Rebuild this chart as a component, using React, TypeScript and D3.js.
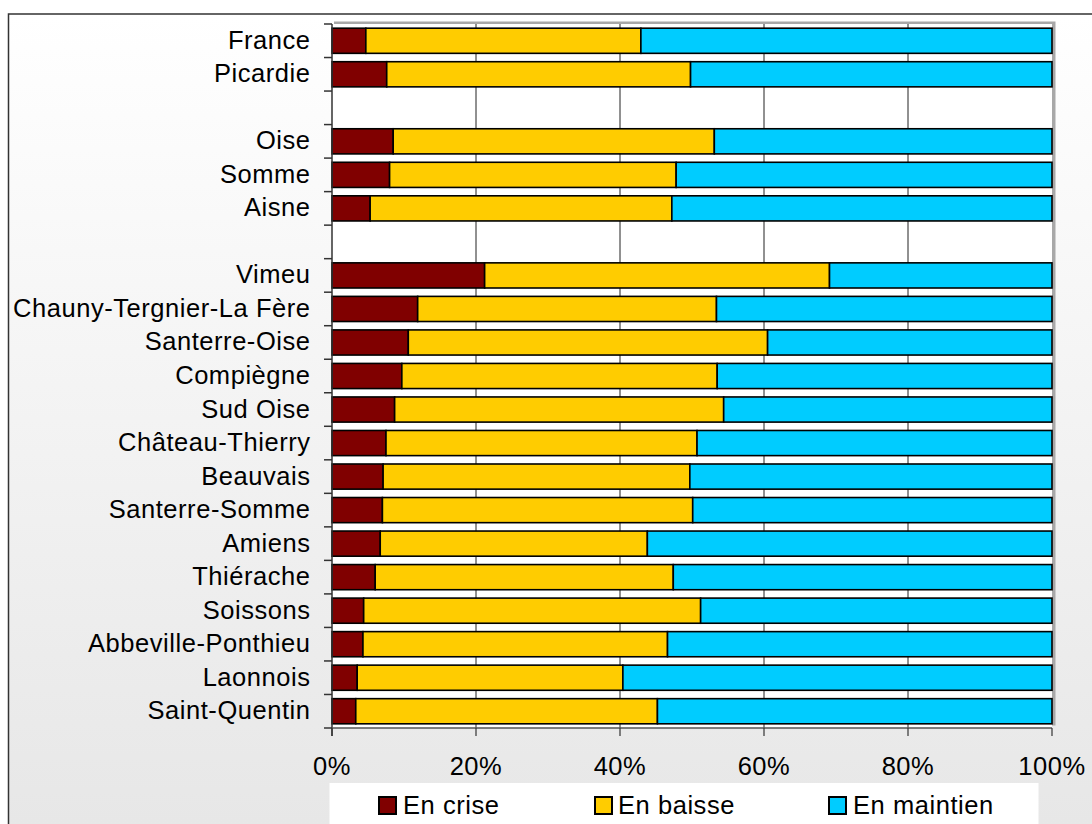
import React from "react";
import * as d3 from "d3";

// Rows from top to bottom; empty strings are spacer rows between groups
const regions = [
  "France", "Picardie", "",
  "Oise", "Somme", "Aisne", "",
  "Vimeu", "Chauny-Tergnier-La Fère", "Santerre-Oise", "Compiègne", "Sud Oise",
  "Château-Thierry", "Beauvais", "Santerre-Somme", "Amiens", "Thiérache",
  "Soissons", "Abbeville-Ponthieu", "Laonnois", "Saint-Quentin",
];

// Share of each status, in percent (null for spacer rows)
const enCrise = [
  4.7, 7.6, null,
  8.5, 8.0, 5.3, null,
  21.2, 11.9, 10.6, 9.7, 8.7,
  7.5, 7.1, 7.0, 6.7, 6.0,
  4.4, 4.3, 3.5, 3.3,
];
const enBaisse = [
  38.2, 42.2, null,
  44.6, 39.8, 41.9, null,
  47.9, 41.5, 49.9, 43.8, 45.7,
  43.2, 42.6, 43.1, 37.1, 41.4,
  46.8, 42.3, 36.9, 41.9,
];
const enMaintien = [
  57.1, 50.2, null,
  46.9, 52.2, 52.8, null,
  30.9, 46.6, 39.5, 46.5, 45.6,
  49.3, 50.3, 49.9, 56.2, 52.6,
  48.8, 53.4, 59.6, 54.8,
];

const seriesNames = ["En crise", "En baisse", "En maintien"];
const seriesColors = ["#800000", "#FFCC00", "#00CCFF"];
const xTicks = [0, 20, 40, 60, 80, 100];

const W = 1092;
const H = 824;
const plot = { left: 332, top: 24, width: 720, height: 704 };
const FONT = "'Liberation Sans', Arial, sans-serif";
const FS = 25.5;
const LS = 0.55;

export default function App() {
  const rows = regions.map((name, i) => ({
    key: String(i),
    name,
    values: [enCrise[i], enBaisse[i], enMaintien[i]],
  }));

  const x = d3.scaleLinear().domain([0, 100]).range([plot.left, plot.left + plot.width]);
  const y = d3
    .scaleBand<string>()
    .domain(rows.map((r) => r.key))
    .range([plot.top, plot.top + plot.height])
    .paddingInner(0.25)
    .paddingOuter(0.125);
  const step = y.step();
  const bottom = plot.top + plot.height;

  // Stack the three series per row
  const stackData = rows
    .filter((r) => r.values[0] !== null)
    .map((r) => ({ key: r.key, c0: r.values[0] as number, c1: r.values[1] as number, c2: r.values[2] as number }));
  const stacked = d3.stack<any>().keys(["c0", "c1", "c2"])(stackData);

  // Row boundaries for the category ticks
  const boundaries = d3.range(rows.length + 1).map((i) => plot.top + i * step);

  const legendItems = [
    { markerX: 379, textX: 403 },
    { markerX: 595, textX: 618 },
    { markerX: 829, textX: 853 },
  ];

  return (
    <svg
      width={W}
      height={H}
      style={{ position: "absolute", left: 0, top: 0, fontFamily: FONT }}
    >
      <defs>
        <linearGradient id="bg" x1="0" y1="0" x2="0" y2="1">
          <stop offset="0%" stopColor="#ffffff" />
          <stop offset="100%" stopColor="#e6e6e6" />
        </linearGradient>
      </defs>

      <rect x={0} y={0} width={W} height={H} fill="#ffffff" />
      {/* Chart frame */}
      <rect
        x={8.5}
        y={14}
        width={W + 20}
        height={H + 20}
        fill="url(#bg)"
        stroke="#333333"
        strokeWidth={1.5}
      />

      {/* Plot area with a soft shadow on top and right */}
      <rect x={plot.left + 2} y={plot.top - 2.5} width={plot.width + 1.5} height={plot.height} fill="#a8a8a8" />
      <rect x={plot.left} y={plot.top} width={plot.width} height={plot.height} fill="#ffffff" />

      {/* Vertical gridlines */}
      {xTicks
        .filter((t) => t > 0 && t < 100)
        .map((t) => (
          <line key={t} x1={x(t)} x2={x(t)} y1={plot.top} y2={bottom} stroke="#222" strokeWidth={1} />
        ))}

      {/* Stacked bars */}
      {stacked.map((layer, si) => (
        <g key={si} fill={seriesColors[si]} stroke="#000" strokeWidth={1.6}>
          {layer.map((d: any) => (
            <rect
              key={d.data.key}
              x={x(d[0])}
              y={y(d.data.key)}
              width={x(d[1]) - x(d[0])}
              height={y.bandwidth()}
            />
          ))}
        </g>
      ))}

      {/* Axes */}
      <line x1={plot.left} x2={plot.left} y1={plot.top} y2={bottom + 8} stroke="#333" strokeWidth={1.5} />
      <line x1={plot.left} x2={plot.left + plot.width} y1={bottom} y2={bottom} stroke="#555" strokeWidth={1.5} />
      {boundaries.map((b, i) => (
        <line key={i} x1={plot.left - 8} x2={plot.left} y1={b} y2={b} stroke="#333" strokeWidth={1.5} />
      ))}
      {xTicks.map((t) => (
        <line key={t} x1={x(t)} x2={x(t)} y1={bottom} y2={bottom + 8} stroke="#333" strokeWidth={1.2} />
      ))}

      {/* Category labels */}
      {rows.map((r) =>
        r.name ? (
          <text
            key={r.key}
            x={310 + LS}
            y={(y(r.key) as number) + y.bandwidth() / 2 + 8}
            textAnchor="end"
            fontSize={FS}
            letterSpacing={LS}
            fill="#000"
          >
            {r.name}
          </text>
        ) : null
      )}

      {/* Percent tick labels */}
      {xTicks.map((t) => (
        <text key={t} x={x(t)} y={775} textAnchor="middle" fontSize={FS} letterSpacing={LS} fill="#000">
          {t}%
        </text>
      ))}

      {/* Legend */}
      <rect x={329.5} y={783} width={709} height={60} fill="#ffffff" />
      {seriesNames.map((name, i) => (
        <g key={name}>
          <rect
            x={legendItems[i].markerX}
            y={797}
            width={17}
            height={17}
            fill={seriesColors[i]}
            stroke="#000"
            strokeWidth={2}
          />
          <text x={legendItems[i].textX} y={814} fontSize={FS} letterSpacing={LS} fill="#000">
            {name}
          </text>
        </g>
      ))}
    </svg>
  );
}
